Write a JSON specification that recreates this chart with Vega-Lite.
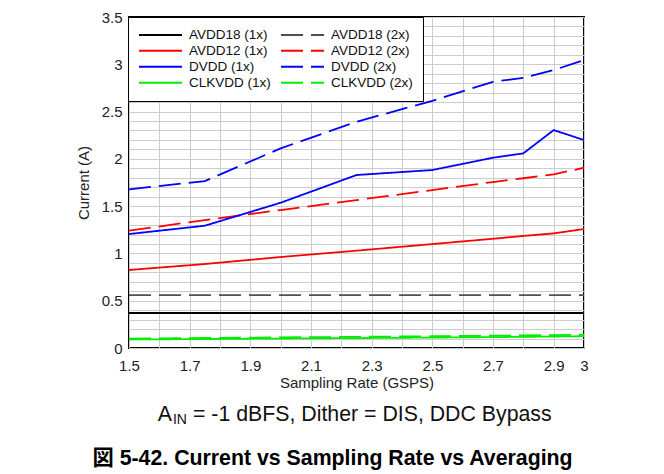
{
  "$schema": "https://vega.github.io/schema/vega-lite/v6.json",
  "width": 455,
  "height": 331,
  "autosize": {"type": "none"},
  "padding": {"left": 129, "top": 17, "right": 80, "bottom": 126},
  "background": "white",
  "config": {
    "font": "Liberation Sans",
    "view": {"stroke": "black", "strokeWidth": 2},
    "axis": {
      "domain": false,
      "ticks": false,
      "grid": true,
      "gridColor": "#cccccc",
      "gridWidth": 1,
      "labelFont": "Liberation Sans",
      "labelFontSize": 15,
      "labelColor": "#222222",
      "labelOverlap": false,
      "labelFlush": false,
      "titleFont": "Liberation Sans",
      "titleFontSize": 15,
      "titleFontWeight": "normal",
      "titleColor": "#222222"
    },
    "legend": {
      "orient": "none", "legendX": -1, "legendY": 0,
      "columns": 2,
      "strokeColor": "black", "fillColor": "white",
      "padding": 10, "symbolType": "stroke", "symbolSize": 1849,
      "symbolStrokeWidth": 1.8, "clipHeight": 15.5,
      "labelFont": "Liberation Sans", "labelFontSize": 13.5, "labelColor": "#111111",
      "labelOffset": 6, "columnPadding": 9, "rowPadding": 0, "labelLimit": 200
    }
  },
  "layer": [
    {
      "data": {"values": [
        {"series": "AVDD18 (1x)", "rate": 1.5, "current": 0.37},
        {"series": "AVDD18 (1x)", "rate": 1.75, "current": 0.37},
        {"series": "AVDD18 (1x)", "rate": 2.0, "current": 0.37},
        {"series": "AVDD18 (1x)", "rate": 2.25, "current": 0.37},
        {"series": "AVDD18 (1x)", "rate": 2.5, "current": 0.37},
        {"series": "AVDD18 (1x)", "rate": 2.7, "current": 0.37},
        {"series": "AVDD18 (1x)", "rate": 2.8, "current": 0.37},
        {"series": "AVDD18 (1x)", "rate": 2.9, "current": 0.37},
        {"series": "AVDD18 (1x)", "rate": 3.0, "current": 0.37},
        {"series": "AVDD18 (2x)", "rate": 1.5, "current": 0.56},
        {"series": "AVDD18 (2x)", "rate": 1.75, "current": 0.56},
        {"series": "AVDD18 (2x)", "rate": 2.0, "current": 0.56},
        {"series": "AVDD18 (2x)", "rate": 2.25, "current": 0.56},
        {"series": "AVDD18 (2x)", "rate": 2.5, "current": 0.56},
        {"series": "AVDD18 (2x)", "rate": 2.7, "current": 0.56},
        {"series": "AVDD18 (2x)", "rate": 2.8, "current": 0.56},
        {"series": "AVDD18 (2x)", "rate": 2.9, "current": 0.56},
        {"series": "AVDD18 (2x)", "rate": 3.0, "current": 0.56},
        {"series": "AVDD12 (1x)", "rate": 1.5, "current": 0.825},
        {"series": "AVDD12 (1x)", "rate": 1.75, "current": 0.888},
        {"series": "AVDD12 (1x)", "rate": 2.0, "current": 0.962},
        {"series": "AVDD12 (1x)", "rate": 2.25, "current": 1.029},
        {"series": "AVDD12 (1x)", "rate": 2.5, "current": 1.099},
        {"series": "AVDD12 (1x)", "rate": 2.7, "current": 1.155},
        {"series": "AVDD12 (1x)", "rate": 2.8, "current": 1.185},
        {"series": "AVDD12 (1x)", "rate": 2.9, "current": 1.212},
        {"series": "AVDD12 (1x)", "rate": 3.0, "current": 1.258},
        {"series": "AVDD12 (2x)", "rate": 1.5, "current": 1.24},
        {"series": "AVDD12 (2x)", "rate": 1.75, "current": 1.353},
        {"series": "AVDD12 (2x)", "rate": 2.0, "current": 1.459},
        {"series": "AVDD12 (2x)", "rate": 2.25, "current": 1.564},
        {"series": "AVDD12 (2x)", "rate": 2.5, "current": 1.67},
        {"series": "AVDD12 (2x)", "rate": 2.7, "current": 1.755},
        {"series": "AVDD12 (2x)", "rate": 2.8, "current": 1.795},
        {"series": "AVDD12 (2x)", "rate": 2.9, "current": 1.836},
        {"series": "AVDD12 (2x)", "rate": 3.0, "current": 1.906},
        {"series": "DVDD (1x)", "rate": 1.5, "current": 1.205},
        {"series": "DVDD (1x)", "rate": 1.75, "current": 1.293},
        {"series": "DVDD (1x)", "rate": 2.0, "current": 1.536},
        {"series": "DVDD (1x)", "rate": 2.25, "current": 1.829},
        {"series": "DVDD (1x)", "rate": 2.5, "current": 1.882},
        {"series": "DVDD (1x)", "rate": 2.7, "current": 2.012},
        {"series": "DVDD (1x)", "rate": 2.8, "current": 2.058},
        {"series": "DVDD (1x)", "rate": 2.9, "current": 2.304},
        {"series": "DVDD (1x)", "rate": 3.0, "current": 2.199},
        {"series": "DVDD (2x)", "rate": 1.5, "current": 1.678},
        {"series": "DVDD (2x)", "rate": 1.75, "current": 1.765},
        {"series": "DVDD (2x)", "rate": 2.0, "current": 2.111},
        {"series": "DVDD (2x)", "rate": 2.25, "current": 2.392},
        {"series": "DVDD (2x)", "rate": 2.5, "current": 2.614},
        {"series": "DVDD (2x)", "rate": 2.7, "current": 2.815},
        {"series": "DVDD (2x)", "rate": 2.8, "current": 2.857},
        {"series": "DVDD (2x)", "rate": 2.9, "current": 2.939},
        {"series": "DVDD (2x)", "rate": 3.0, "current": 3.044},
        {"series": "CLKVDD (1x)", "rate": 1.5, "current": 0.09},
        {"series": "CLKVDD (1x)", "rate": 1.75, "current": 0.095},
        {"series": "CLKVDD (1x)", "rate": 2.0, "current": 0.1},
        {"series": "CLKVDD (1x)", "rate": 2.25, "current": 0.105},
        {"series": "CLKVDD (1x)", "rate": 2.5, "current": 0.11},
        {"series": "CLKVDD (1x)", "rate": 2.7, "current": 0.115},
        {"series": "CLKVDD (1x)", "rate": 2.8, "current": 0.118},
        {"series": "CLKVDD (1x)", "rate": 2.9, "current": 0.121},
        {"series": "CLKVDD (1x)", "rate": 3.0, "current": 0.125},
        {"series": "CLKVDD (2x)", "rate": 1.5, "current": 0.1},
        {"series": "CLKVDD (2x)", "rate": 1.75, "current": 0.106},
        {"series": "CLKVDD (2x)", "rate": 2.0, "current": 0.112},
        {"series": "CLKVDD (2x)", "rate": 2.25, "current": 0.118},
        {"series": "CLKVDD (2x)", "rate": 2.5, "current": 0.124},
        {"series": "CLKVDD (2x)", "rate": 2.7, "current": 0.13},
        {"series": "CLKVDD (2x)", "rate": 2.8, "current": 0.133},
        {"series": "CLKVDD (2x)", "rate": 2.9, "current": 0.137},
        {"series": "CLKVDD (2x)", "rate": 3.0, "current": 0.14}
      ]},
      "mark": {"type": "line", "strokeWidth": 1.8, "clip": true},
      "encoding": {
        "x": {
          "field": "rate", "type": "quantitative",
          "scale": {"domain": [1.5, 3], "nice": false, "zero": false},
          "axis": {
            "title": "Sampling Rate (GSPS)",
            "values": [1.5, 1.6, 1.7, 1.8, 1.9, 2.0, 2.1, 2.2, 2.3, 2.4, 2.5, 2.6, 2.7, 2.8, 2.9, 3.0],
            "tickCount": 200,
            "format": ".1~f",
            "labelExpr": "(round(datum.value*10) % 2 == 1) || datum.value > 2.95 ? datum.label : ''",
            "labelOverlap": false,
            "labelFlush": false,
            "labelPadding": 10,
            "titlePadding": 2
          }
        },
        "y": {
          "field": "current", "type": "quantitative",
          "scale": {"domain": [0, 3.5], "nice": false},
          "axis": {
            "title": "Current (A)",
            "values": [0, 0.1, 0.2, 0.3, 0.4, 0.5, 0.6, 0.7, 0.8, 0.9, 1.0, 1.1, 1.2, 1.3, 1.4, 1.5, 1.6, 1.7, 1.8, 1.9, 2.0, 2.1, 2.2, 2.3, 2.4, 2.5, 2.6, 2.7, 2.8, 2.9, 3.0, 3.1, 3.2, 3.3, 3.4, 3.5],
            "tickCount": 200,
            "format": ".1~f",
            "labelExpr": "abs(datum.value*2 - round(datum.value*2)) < 0.001 ? datum.label : ''",
            "labelOverlap": false,
            "labelPadding": 7,
            "titlePadding": 10
          }
        },
        "color": {
          "field": "series", "type": "nominal",
          "scale": {
            "domain": ["AVDD18 (1x)", "AVDD12 (1x)", "DVDD (1x)", "CLKVDD (1x)", "AVDD18 (2x)", "AVDD12 (2x)", "DVDD (2x)", "CLKVDD (2x)"],
            "range": ["#000000", "#ff0000", "#0000ff", "#00ee00", "#505050", "#ff0000", "#0000ff", "#00ee00"]
          },
          "legend": {"title": null}
        },
        "strokeDash": {
          "field": "series", "type": "nominal",
          "scale": {
            "domain": ["AVDD18 (1x)", "AVDD12 (1x)", "DVDD (1x)", "CLKVDD (1x)", "AVDD18 (2x)", "AVDD12 (2x)", "DVDD (2x)", "CLKVDD (2x)"],
            "range": [[1, 0], [1, 0], [1, 0], [1, 0], [22, 8], [22, 8], [22, 8], [22, 8]]
          },
          "legend": {"title": null}
        }
      }
    },
    {
      "data": {"values": [{"label": "A"}]},
      "mark": {"type": "text", "font": "Liberation Sans", "fontSize": 21.3, "align": "right", "baseline": "alphabetic", "color": "#111111"},
      "encoding": {
        "x": {"datum": 1.6418, "type": "quantitative"},
        "y": {"datum": -0.772, "type": "quantitative"},
        "text": {"field": "label", "type": "nominal"}
      }
    },
    {
      "data": {"values": [{"label": "IN"}]},
      "mark": {"type": "text", "font": "Liberation Sans", "fontSize": 14, "align": "left", "baseline": "alphabetic", "color": "#111111"},
      "encoding": {
        "x": {"datum": 1.645, "type": "quantitative"},
        "y": {"datum": -0.80, "type": "quantitative"},
        "text": {"field": "label", "type": "nominal"}
      }
    },
    {
      "data": {"values": [{"label": "= -1 dBFS, Dither = DIS, DDC Bypass"}]},
      "mark": {"type": "text", "font": "Liberation Sans", "fontSize": 21.3, "align": "left", "baseline": "alphabetic", "color": "#111111"},
      "encoding": {
        "x": {"datum": 1.711, "type": "quantitative"},
        "y": {"datum": -0.772, "type": "quantitative"},
        "text": {"field": "label", "type": "nominal"}
      }
    },
    {
      "data": {"values": [{"label": "図 5-42. Current vs Sampling Rate vs Averaging"}]},
      "mark": {"type": "text", "font": "Liberation Sans, Noto Sans CJK JP", "fontSize": 21.3, "fontWeight": "bold", "align": "center", "baseline": "alphabetic", "color": "#000000"},
      "encoding": {
        "x": {"datum": 2.171, "type": "quantitative"},
        "y": {"datum": -1.237, "type": "quantitative"},
        "text": {"field": "label", "type": "nominal"}
      }
    }
  ]
}
